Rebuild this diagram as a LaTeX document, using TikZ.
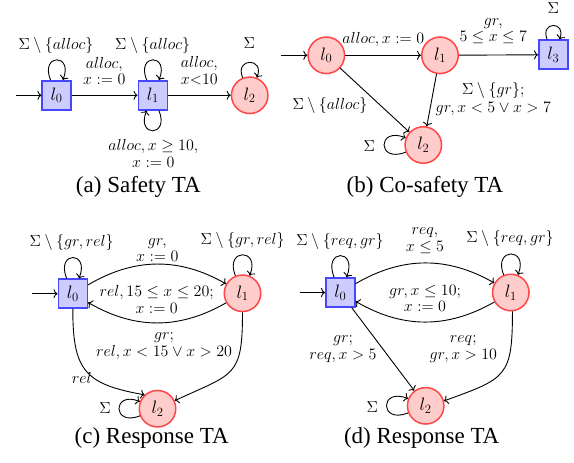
\RequirePackage{fix-cm}
\documentclass[tikz,border=0pt]{standalone}
\usepackage[no-math]{fontspec}
\setmainfont{Liberation Serif}
\newfontfamily\capfont{Liberation Serif}
\usetikzlibrary{arrows.meta}
\tikzset{
  lab/.style={font=\fontsize{16}{16.5}\selectfont, inner sep=0pt, align=center},
  labw/.style={font=\fontsize{16}{17.5}\selectfont, inner sep=0pt, align=center},
  captxt/.style={font=\capfont\fontsize{23}{25}\selectfont, inner sep=0pt},
  bst/.style={draw=blue!72, fill=blue!20, line width=1.5pt, minimum size=29pt, inner sep=0pt, font=\fontsize{18}{20}\selectfont},
  rst/.style={circle, draw=red!72, fill=red!20, line width=1.5pt, minimum size=36.5pt, inner sep=0pt, font=\fontsize{18}{20}\selectfont},
  tr/.style={-{To[length=4pt,width=9pt]}, line width=0.9pt},
  lpa/.style={out=112,in=68,looseness=1,min distance=#1},
  lpl/.style={out=202,in=158,looseness=1,min distance=#1},
  lpb/.style={out=292,in=248,looseness=1,min distance=#1}
}
\begin{document}
\begin{tikzpicture}[x=1pt,y=-1pt]
\useasboundingbox (0,0) rectangle (574,463);
% (a)
\node[bst] (A0) at (56.7,95.3) {$l_0$};
\node[bst] (A1) at (152.8,95.3) {$l_1$};
\node[rst] (A2) at (249.7,95.3) {$l_2$};
\coordinate (Ai) at (16,95.3);
\draw[tr] (Ai) -- (A0);
\draw[tr] (A0) -- (A1);
\draw[tr] (A1) -- (A2);
\draw[tr] (A0) to[lpa=29pt] (A0);
\draw[tr] (A1) to[lpa=29pt] (A1);
\draw[tr] (A1) to[lpb=29pt] (A1);
\draw[tr] (A2) to[lpa=22pt] (A2);
\node[lab] (aL0) at (56,45) {$\Sigma\setminus\{alloc\}$};
\node[lab] (aL1) at (152.7,45) {$\Sigma\setminus\{alloc\}$};
\node[lab] (aE01) at (104.3,70.7) {$alloc,$\\$x:=0$};
\node[lab] (aE12) at (199.3,70.7) {$alloc,$\\$x{<}10$};
\node[lab] (aL2) at (249.3,43.3) {$\Sigma$};
\node[lab] (aL1b) at (153.3,153.3) {$alloc, x\geq 10,$\\$x:=0$};
\node[captxt] (capa) at (138.3,186.7) {(a) Safety TA};
% (b)
\node[rst] (B0) at (326.3,55.3) {$l_0$};
\node[rst] (B1) at (440,55.3) {$l_1$};
\node[bst] (B3) at (553.3,54.7) {$l_3$};
\node[rst] (B2) at (423.3,145) {$l_2$};
\coordinate (Bi) at (281,55.3);
\draw[tr] (Bi) -- (B0);
\draw[tr] (B0) -- (B1);
\draw[tr] (B1) -- (B3);
\draw[tr] (B0) -- (B2);
\draw[tr] (B1) -- (B2);
\draw[tr] (B3) to[lpa=20pt] (B3);
\draw[tr] (B2) to[lpl=31pt] (B2);
\node[lab] (bE01) at (383.3,39.3) {$alloc, x:=0$};
\node[lab] (bE13) at (493.3,31.2) {$gr,$\\$5\leq x\leq 7$};
\node[lab] (bL3) at (553.3,8) {$\Sigma$};
\node[lab] (bE02) at (330,105) {$\Sigma\setminus\{alloc\}$};
\node[labw] (bE12) at (493.3,99) {$\Sigma\setminus\{gr\};$\\$gr, x<5\vee x>7$};
\node[lab] (bL2) at (369.3,145.7) {$\Sigma$};
\node[captxt] (capb) at (425,186.7) {(b) Co-safety TA};
% (c)
\node[bst] (C0) at (72.8,293.7) {$l_0$};
\node[rst] (C1) at (242.5,293.3) {$l_1$};
\node[rst] (C2) at (157.5,408.7) {$l_2$};
\coordinate (Ci) at (31.7,293.7);
\draw[tr] (Ci) -- (C0);
\draw[tr] (C0) to[bend left=30] (C1);
\draw[tr] (C1) to[bend left=30] (C0);
\draw[tr] (C0.south) to[out=-90,in=170,looseness=1.4] (C2.133);
\draw[tr] (C1.south) to[out=-90,in=25,looseness=1.5] (C2.25);
\draw[tr] (C0) to[lpa=30pt] (C0);
\draw[tr] (C1) to[lpa=30pt] (C1);
\draw[tr] (C2) to[lpl=30pt] (C2);
\node[lab] (cL0) at (71.7,242.7) {$\Sigma\setminus\{gr, rel\}$};
\node[lab] (cL1) at (242.7,240) {$\Sigma\setminus\{gr, rel\}$};
\node[lab] (cE01) at (157.3,250.3) {$gr,$\\$x:=0$};
\node[lab] (cE10) at (156.7,299.2) {$rel, 15\leq x\leq 20;$\\$x:=0$};
\node[lab] (cE02) at (81.7,378.3) {$rel$};
\node[lab] (cE12) at (164,346.3) {$gr;$\\$rel, x<15\vee x>20$};
\node[lab] (cL2) at (105,408.3) {$\Sigma$};
\node[captxt] (capc) at (151.7,438.3) {(c) Response TA};
% (d)
\node[bst] (D0) at (340.3,292.5) {$l_0$};
\node[rst] (D1) at (510.8,292.5) {$l_1$};
\node[rst] (D2) at (425.7,405.8) {$l_2$};
\coordinate (Di) at (300,292.5);
\draw[tr] (Di) -- (D0);
\draw[tr] (D0) to[bend left=30] (D1);
\draw[tr] (D1) to[bend left=30] (D0);
\draw[tr] (D0) -- (D2);
\draw[tr] (D1.-85) to[out=-90,in=20,looseness=1.5] (D2.15);
\draw[tr] (D0) to[lpa=31pt] (D0);
\draw[tr] (D1) to[lpa=30pt] (D1);
\draw[tr] (D2) to[lpl=31pt] (D2);
\node[lab] (dL0) at (340,241.7) {$\Sigma\setminus\{req, gr\}$};
\node[lab] (dL1) at (510,238.3) {$\Sigma\setminus\{req, gr\}$};
\node[labw] (dE01) at (425,240.5) {$req,$\\$x\leq 5$};
\node[lab] (dE10) at (425,298.3) {$gr, x\leq 10;$\\$x:=0$};
\node[lab] (dE02) at (343,349.2) {$gr;$\\$req, x>5$};
\node[lab] (dE12) at (463.3,349.2) {$req;$\\$gr, x>10$};
\node[lab] (dL2) at (372.3,406.7) {$\Sigma$};
\node[captxt] (capd) at (421.7,438.3) {(d) Response TA};
\end{tikzpicture}
\end{document}
